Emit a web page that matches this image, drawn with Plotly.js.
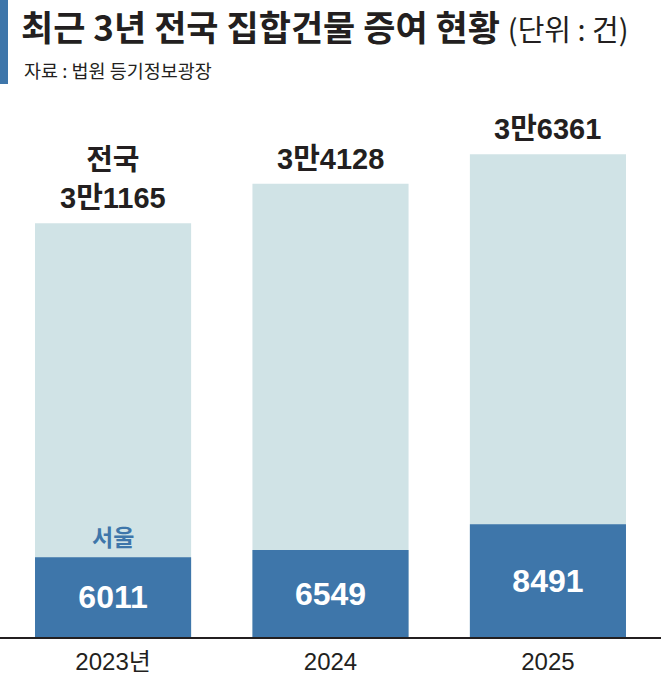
<!DOCTYPE html>
<html>
<head>
<meta charset="utf-8">
<script src="https://cdn.plot.ly/plotly-3.0.1.min.js"></script>
<style>html,body{margin:0;padding:0;background:#fff;}#chart{width:661px;height:685px;}</style>
</head>
<body>
<div id="chart"></div>
<script>
const years = ['2023년', '2024', '2025'];
const totalValues = [31165, 34128, 36361];
const seoulValues = [6011, 6549, 8491];
const totalLabelPrefix = ['전국', '', ''];
const seoulLabel = '서울';

const xs = years.map((_, i) => i);
function man(v) { return Math.floor(v / 10000) + '만' + (v % 10000); }

const num = '"Liberation Sans", Arial, "Noto Sans CJK KR", sans-serif';
const kr = '"Noto Sans CJK KR", "Liberation Sans", sans-serif';

const W = 661, H = 685, mt = 90, mb = 48;
const ph = H - mt - mb;

const traces = [
  {
    type: 'bar', x: xs, y: totalValues, width: 0.718,
    marker: { color: '#d0e3e6', line: { width: 0 } },
    hoverinfo: 'skip', showlegend: false
  },
  {
    type: 'bar', x: xs, y: seoulValues, width: 0.718,
    marker: { color: '#3e76aa', line: { width: 0 } },
    text: seoulValues.map(v => String(v)),
    textposition: 'inside', insidetextanchor: 'middle',
    textfont: { family: num, size: 32, color: '#ffffff', weight: 'bold' },
    constraintext: 'none',
    hoverinfo: 'skip', showlegend: false
  }
];

const annotations = xs.map((x, i) => ({
  x: x, y: totalValues[i], xref: 'x', yref: 'y',
  text: (totalLabelPrefix[i] ? totalLabelPrefix[i] + '<br>' : '') + man(totalValues[i]),
  showarrow: false, yanchor: 'bottom', yshift: 7,
  font: { family: num, size: 29, color: '#231f20', weight: 'bold' },
  align: 'center'
}));
annotations.push({
  x: xs[0], y: seoulValues[0], xref: 'x', yref: 'y', text: seoulLabel,
  showarrow: false, yanchor: 'bottom', yshift: 2,
  font: { family: kr, size: 23, color: '#3e76aa', weight: 'bold' }
});
annotations.push({
  x: 22 / W, xref: 'paper', xanchor: 'left',
  y: (H - mb - 70) / ph, yref: 'paper', yanchor: 'middle',
  text: '자료 : 법원 등기정보광장', showarrow: false,
  font: { family: kr, size: 18.5, color: '#231f20' }
});
annotations.push({
  x: 20 / W, xref: 'paper', xanchor: 'left',
  y: (H - mb - 26) / ph, yref: 'paper', yanchor: 'middle',
  text: '<b>최근 3년 전국 집합건물 증여 현황</b> <span style="font-size:29px">(단위 : 건)</span>',
  showarrow: false, borderpad: 0,
  font: { family: kr, size: 35, color: '#231f20' }
});

const layout = {
  width: W, height: H,
  margin: { l: 0, r: 0, t: mt, b: mb, pad: 0 },
  paper_bgcolor: '#ffffff', plot_bgcolor: '#ffffff',
  barmode: 'overlay',
  xaxis: {
    range: [-0.52, 2.52], tickvals: xs, ticktext: years,
    showline: true, linecolor: '#231f20', linewidth: 1.5,
    ticks: '', showgrid: false, zeroline: false, fixedrange: true,
    ticklabelstandoff: 3,
    tickfont: { family: num, size: 24, color: '#231f20' }
  },
  yaxis: {
    range: [0, ph / 0.01328], visible: false, showgrid: false, zeroline: false, fixedrange: true
  },
  shapes: [{
    type: 'rect', xref: 'paper', yref: 'paper',
    x0: 0, x1: 8 / W, y0: (H - mb - 84) / ph, y1: (H - mb) / ph,
    fillcolor: '#3e76aa', line: { width: 0 }
  }],
  annotations: annotations
};

Plotly.newPlot('chart', traces, layout, { displayModeBar: false, staticPlot: true });
</script>
</body>
</html>
